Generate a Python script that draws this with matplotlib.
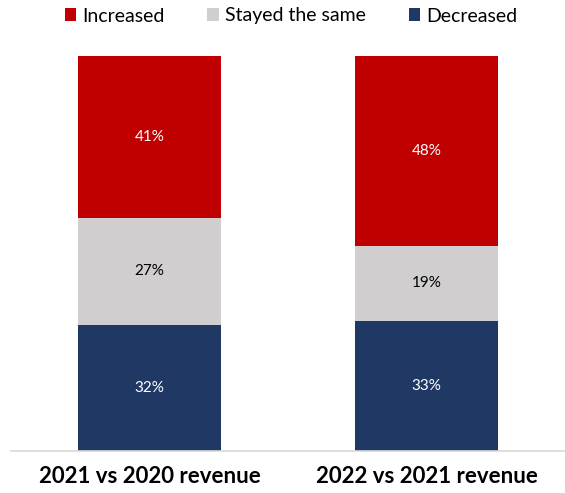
import matplotlib.pyplot as plt

categories = ['2021 vs 2020 revenue', '2022 vs 2021 revenue']
series = ['Decreased', 'Stayed the same', 'Increased']
decreased = [32, 33]
stayed = [27, 19]
increased = [41, 48]
colors = {'Increased': '#C00000', 'Stayed the same': '#D0CECE', 'Decreased': '#203864'}

plt.rcParams['font.family'] = ['Lato', 'DejaVu Sans']

fig = plt.figure(figsize=(5.65, 4.93), dpi=100)
ax = fig.add_axes([11 / 565, 42 / 493, 554 / 565, 395 / 493])

xs = list(range(len(categories)))
bottom = [0, 0]
bars = {}
for name, vals in zip(series, [decreased, stayed, increased]):
    bars[name] = ax.bar(xs, vals, width=0.513, bottom=bottom, color=colors[name],
                        label=name, zorder=2)
    for x, b, v in zip(xs, bottom, vals):
        ax.text(x, b + v / 2, f'{v}%', ha='center', va='center',
                color='white' if name != 'Stayed the same' else 'black',
                fontsize=11, zorder=3)
    bottom = [b + v for b, v in zip(bottom, vals)]

ax.set_xlim(-0.5, 1.5)
ax.set_ylim(0, 100)
ax.set_xticks(xs)
ax.set_xticklabels(categories, fontsize=16, fontweight='bold')
ax.tick_params(axis='x', length=0, pad=11)
ax.set_yticks([])
for s in ['top', 'right', 'left']:
    ax.spines[s].set_visible(False)
ax.spines['bottom'].set_color('#D9D9D9')
ax.spines['bottom'].set_linewidth(1.2)

handles = [bars['Increased'], bars['Stayed the same'], bars['Decreased']]
fig.legend(handles, ['Increased', 'Stayed the same', 'Decreased'], loc='center',
           bbox_to_anchor=(291 / 565, 1 - 16 / 493), ncol=3, frameon=False,
           fontsize=14, handlelength=0.6, handleheight=0.6, handletextpad=0.3,
           columnspacing=2.2)

fig.savefig('out.png', dpi=100)
